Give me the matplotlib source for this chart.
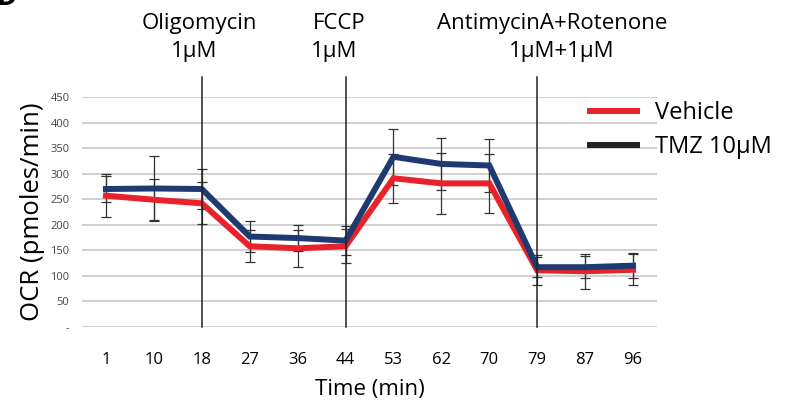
import matplotlib.pyplot as plt
from matplotlib.lines import Line2D

plt.rcParams['font.family'] = ['Open Sans', 'DejaVu Sans']

times = ['1', '10', '18', '27', '36', '44', '53', '62', '70', '79', '87', '96']
vehicle = [257, 249, 242, 158, 154, 158, 291, 281, 281, 111, 109, 112]
vehicle_err = [42, 40, 41, 31, 36, 33, 48, 59, 57, 29, 34, 30]
tmz = [270, 271, 270, 177, 174, 169, 333, 319, 316, 117, 117, 120]
tmz_err = [25, 64, 39, 30, 25, 28, 55, 50, 52, 20, 21, 25]

yticks = [0, 50, 100, 150, 200, 250, 300, 350, 400, 450]
ytick_labels = ['-', '50', '100', '150', '200', '250', '300', '350', '400', '450']

# injections: (category index, name, dose, text x positions)
injections = [
    (2, 'Oligomycin', '1\u03bcM', 1.94, 1.85),
    (5, 'FCCP', '1\u03bcM', 4.86, 4.77),
    (9, 'AntimycinA+Rotenone', '1\u03bcM+1\u03bcM', 9.32, 9.51),
]

red = '#e8212b'
navy = '#1f3a70'

fig = plt.figure(figsize=(7.85, 4.03), dpi=100)
ax = fig.add_axes([82 / 785, 76 / 403, 575 / 785, 230 / 403])

x = list(range(len(times)))
ax.errorbar(x, vehicle, yerr=vehicle_err, fmt='none', ecolor='#333333',
            elinewidth=0.9, capsize=3.6, capthick=0.9, zorder=3)
ax.errorbar(x, tmz, yerr=tmz_err, fmt='none', ecolor='#333333',
            elinewidth=0.9, capsize=3.6, capthick=0.9, zorder=3)
ax.plot(x, vehicle, color=red, lw=4.3, solid_joinstyle='miter', zorder=4)
ax.plot(x, tmz, color=navy, lw=4.3, solid_joinstyle='miter', zorder=5)

for idx, name, dose, xn, xd in injections:
    ax.plot([idx, idx], [0, 490], color='#222222', lw=1.1, clip_on=False, zorder=6)
    ax.text(xn, 594, name, ha='center', va='center', fontsize=16, clip_on=False)
    ax.text(xd, 540, dose, ha='center', va='center', fontsize=16, clip_on=False)

ax.set_xlim(-0.5, 11.5)
ax.set_ylim(0, 450)
ax.set_xticks(x)
ax.set_xticklabels(times, fontsize=12)
ax.set_yticks(yticks)
ax.set_yticklabels(ytick_labels, fontsize=8, color='#444444')
ax.tick_params(length=0)
ax.tick_params(axis='x', pad=18)
ax.tick_params(axis='y', pad=9)
ax.grid(axis='y', color='#c8c8c8', lw=1.2)
ax.set_axisbelow(True)
for s in ax.spines.values():
    s.set_visible(False)

ax.set_ylabel('OCR (pmoles/min)', fontsize=18.5, labelpad=4)
ax.set_xlabel('Time (min)', fontsize=16, labelpad=8)

handles = [Line2D([], [], color=red, lw=4.3),
           Line2D([], [], color='#222222', lw=4.3)]
fig.legend(handles, ['Vehicle', 'TMZ 10\u03bcM'], loc='upper left',
           bbox_to_anchor=(590 / 785, 1 - 101 / 403), frameon=False,
           fontsize=17, handlelength=2.0, handletextpad=0.75,
           labelspacing=0.42, borderpad=0, borderaxespad=0)

fig.text(-0.004, 1 - 5 / 403, 'D', fontsize=20, fontweight='bold',
         va='baseline', ha='left')

fig.savefig('out.png', dpi=100)
